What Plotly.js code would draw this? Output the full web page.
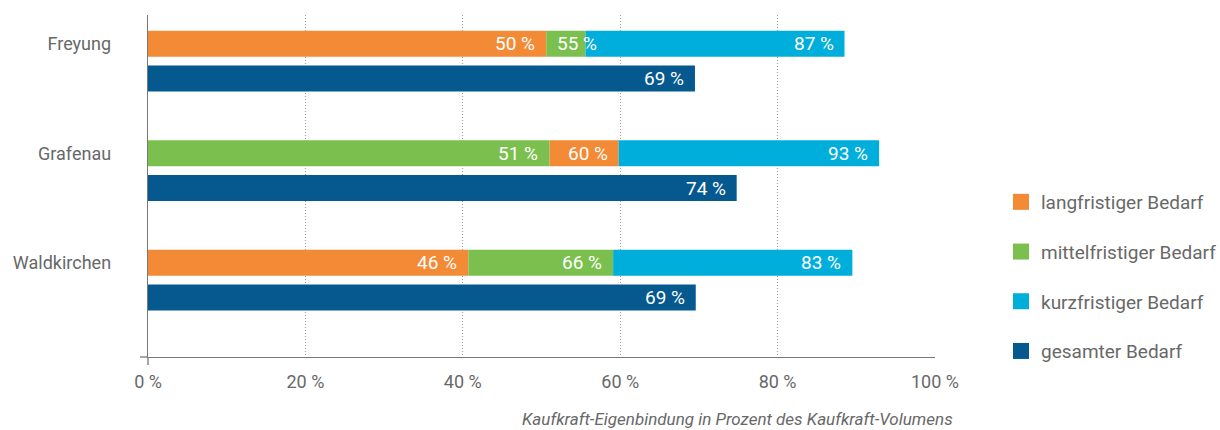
<!DOCTYPE html>
<html>
<head>
<meta charset="utf-8">
<script src="https://cdn.plot.ly/plotly-3.0.1.min.js"></script>
<style>
  html, body { margin: 0; padding: 0; background: #ffffff; }
  #chart { width: 1220px; height: 430px; }
</style>
</head>
<body>
<div id="chart"></div>
<script>
// ---- data ----
const cities = ['Freyung', 'Grafenau', 'Waldkirchen'];
const langfristig = [50.6, 59.8, 40.7];     // bar end, %
const mittelfristig = [55.6, 51.0, 59.1];
const kurzfristig = [88.5, 92.9, 89.5];
const gesamt = [69.5, 74.8, 69.6];
const langLabels = ['50 %', '60 %', '46 %'];
const mittelLabels = ['55 %', '51 %', '66 %'];
const kurzLabels = ['87 %', '93 %', '83 %'];
const gesamtLabels = ['69 %', '74 %', '69 %'];
const seriesNames = ['langfristiger Bedarf', 'mittelfristiger Bedarf', 'kurzfristiger Bedarf', 'gesamter Bedarf'];
const xTicks = [0, 20, 40, 60, 80, 100];
const xTitle = 'Kaufkraft-Eigenbindung in Prozent des Kaufkraft-Volumens';

// ---- styling ----
const colors = ['#F38A36', '#7BC04E', '#00AEDB', '#06598F'];
const textColor = '#686868';
const fontFamily = 'Roboto, "Open Sans", sans-serif';
const W = 1220, H = 430;
const margin = { l: 148, r: 285, t: 15, b: 73, autoexpand: false };
const plotW = W - margin.l - margin.r;
const plotH = H - margin.t - margin.b;
const barWidth = 0.2374;
const gesamtOffset = 0.318;
const labelFitPct = 6.5; // a segment narrower than this (in %) gets its label at its start

const rowTop = cities.map((c, i) => i);
const rowGes = cities.map((c, i) => i + gesamtOffset);

// segments of the upper bar: smaller of lang/mittel starts at 0, larger continues, kurz continues to its end
const langBase = cities.map((c, i) => langfristig[i] <= mittelfristig[i] ? 0 : mittelfristig[i]);
const mittelBase = cities.map((c, i) => mittelfristig[i] < langfristig[i] ? 0 : langfristig[i]);
const kurzBase = cities.map((c, i) => Math.max(langfristig[i], mittelfristig[i]));
const zeroBase = cities.map(() => 0);

function segTrace(ends, bases, y, color) {
  return {
    type: 'bar', orientation: 'h',
    x: ends.map((v, i) => v - bases[i]),
    base: bases,
    y: y,
    width: barWidth,
    marker: { color: color, line: { width: 0 } },
    showlegend: false,
    hoverinfo: 'skip'
  };
}

const traces = [
  segTrace(langfristig, langBase, rowTop, colors[0]),
  segTrace(mittelfristig, mittelBase, rowTop, colors[1]),
  segTrace(kurzfristig, kurzBase, rowTop, colors[2]),
  segTrace(gesamt, zeroBase, rowGes, colors[3])
];

// legend entries
seriesNames.forEach((name, k) => {
  traces.push({
    type: 'scatter', mode: 'markers',
    x: [null], y: [null],
    name: name,
    legendgroup: 'g' + k,
    marker: { symbol: 'square', size: 16, color: colors[k] },
    hoverinfo: 'skip'
  });
});

// value labels
const annotations = [];
function addLabels(ends, bases, labels, y) {
  ends.forEach((v, i) => {
    const fits = (v - bases[i]) >= labelFitPct;
    annotations.push({
      x: fits ? v : bases[i], y: y[i], xref: 'x', yref: 'y',
      text: labels[i], showarrow: false,
      xanchor: fits ? 'right' : 'left', yanchor: 'middle', xshift: fits ? -9 : 9,
      font: { family: fontFamily, size: 19, color: '#ffffff' }
    });
  });
}
addLabels(langfristig, langBase, langLabels, rowTop);
addLabels(mittelfristig, mittelBase, mittelLabels, rowTop);
addLabels(kurzfristig, kurzBase, kurzLabels, rowTop);
addLabels(gesamt, zeroBase, gesamtLabels, rowGes);

// axis title (right aligned, as in the reference)
annotations.push({
  xref: 'paper', yref: 'paper',
  x: (955 - margin.l) / plotW, y: (plotH - (419 - margin.t)) / plotH,
  xanchor: 'right', yanchor: 'middle',
  text: xTitle, showarrow: false,
  font: { family: fontFamily, size: 17, color: textColor, style: 'italic' }
});

const yTop = -(43.8 - margin.t) / 109.45;
const yBot = (margin.t + plotH - 43.8) / 109.45;

const layout = {
  width: W, height: H,
  margin: margin,
  paper_bgcolor: '#ffffff', plot_bgcolor: '#ffffff',
  barmode: 'overlay',
  font: { family: fontFamily, size: 18, color: textColor },
  showlegend: true,
  legend: {
    x: (1001 - margin.l) / plotW, xanchor: 'left',
    y: (plotH - (183 - margin.t)) / plotH, yanchor: 'top',
    traceorder: 'grouped', tracegroupgap: 22,
    font: { family: fontFamily, size: 19, color: textColor },
    bgcolor: 'rgba(0,0,0,0)'
  },
  xaxis: {
    range: [0, 100], fixedrange: true, automargin: false,
    tickvals: xTicks, ticktext: xTicks.map(v => v + ' %'),
    ticks: '', ticklabelstandoff: 8,
    tickfont: { family: fontFamily, size: 18, color: textColor },
    showgrid: true, gridcolor: '#9a9a9a', gridwidth: 1, griddash: '1px,2px',
    zeroline: false,
    showline: true, linecolor: '#777777', linewidth: 1.3
  },
  yaxis: {
    range: [yBot, yTop], fixedrange: true, automargin: false,
    tickvals: rowTop, ticktext: cities,
    ticks: '', ticklabelstandoff: 32,
    tickfont: { family: fontFamily, size: 18, color: textColor },
    showgrid: false, zeroline: false,
    showline: true, linecolor: '#777777', linewidth: 1.3
  },
  annotations: annotations,
  shapes: [
    { type: 'line', xref: 'paper', yref: 'paper', x0: -8 / plotW, x1: 0, y0: 0, y1: 0,
      line: { color: '#777777', width: 1.3 } },
    { type: 'line', xref: 'paper', yref: 'paper', x0: 0, x1: 0, y0: 0, y1: -8 / plotH,
      line: { color: '#777777', width: 1.3 } }
  ]
};

Plotly.newPlot('chart', traces, layout, { displayModeBar: false, staticPlot: true });
</script>
</body>
</html>
